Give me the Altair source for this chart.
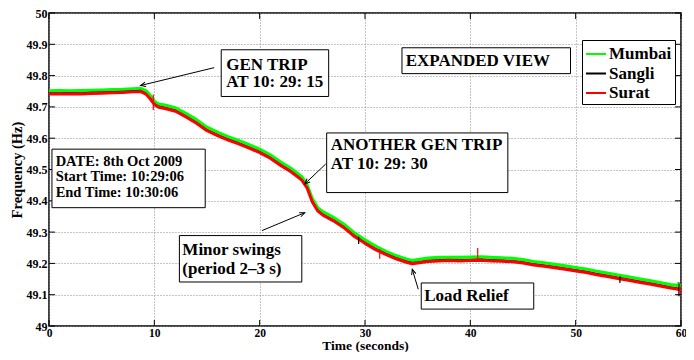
import math
import altair as alt
import pandas as pd

# ---------------- data ----------------
T = [0, 1, 2, 3, 4, 5, 6, 7, 8, 8.7, 9.2, 9.6, 10.0, 10.4,
     11, 12, 13, 14, 15, 16, 17, 18, 19, 20, 21, 22, 23, 24,
     24.5, 25, 25.5, 26,
     27, 28, 29, 30, 31, 32, 33, 34, 34.5,
     35, 36, 37, 38, 39, 40, 41, 42, 43, 44, 45, 46, 47, 48, 49, 50,
     51, 52, 53, 54, 55, 56, 57, 58, 59, 60]

MUMBAI = [49.751, 49.752, 49.751, 49.752, 49.753, 49.754, 49.755, 49.756, 49.758,
          49.759, 49.752, 49.737, 49.718, 49.709,
          49.706, 49.697, 49.679, 49.659, 49.635, 49.619, 49.605, 49.593, 49.579, 49.565,
          49.547, 49.524, 49.503, 49.477,
          49.451, 49.406, 49.378, 49.365,
          49.347, 49.325, 49.297, 49.275, 49.255, 49.238, 49.224, 49.213, 49.209,
          49.212, 49.217, 49.219, 49.219, 49.219, 49.220, 49.221, 49.219, 49.218, 49.216,
          49.212, 49.206, 49.202, 49.197, 49.192, 49.187, 49.182, 49.175, 49.169, 49.163,
          49.157, 49.151, 49.145, 49.139, 49.132, 49.128]

SANGLI = [49.745, 49.745, 49.746, 49.745, 49.747, 49.748, 49.749, 49.750, 49.752,
          49.753, 49.745, 49.730, 49.712, 49.703,
          49.699, 49.690, 49.672, 49.652, 49.628, 49.612, 49.598, 49.586, 49.572, 49.558,
          49.540, 49.517, 49.496, 49.470,
          49.445, 49.400, 49.372, 49.358,
          49.340, 49.318, 49.290, 49.268, 49.248, 49.232, 49.218, 49.207, 49.203,
          49.205, 49.210, 49.212, 49.213, 49.212, 49.213, 49.214, 49.212, 49.211, 49.209,
          49.205, 49.199, 49.195, 49.190, 49.185, 49.180, 49.175, 49.168, 49.162, 49.156,
          49.150, 49.144, 49.138, 49.132, 49.125, 49.120]

SURAT = [49.741, 49.741, 49.742, 49.741, 49.743, 49.744, 49.745, 49.746, 49.748,
         49.749, 49.741, 49.726, 49.708, 49.699,
         49.695, 49.686, 49.668, 49.648, 49.624, 49.608, 49.594, 49.582, 49.568, 49.554,
         49.536, 49.513, 49.492, 49.466,
         49.441, 49.396, 49.368, 49.354,
         49.336, 49.314, 49.286, 49.264, 49.244, 49.228, 49.214, 49.203, 49.199,
         49.201, 49.206, 49.208, 49.209, 49.208, 49.209, 49.210, 49.208, 49.207, 49.205,
         49.201, 49.195, 49.191, 49.186, 49.181, 49.176, 49.171, 49.164, 49.158, 49.152,
         49.146, 49.140, 49.134, 49.128, 49.121, 49.116]

SERIES = ["Mumbai", "Sangli", "Surat"]
COLORS = ["#00ff00", "#000000", "#ff0000"]
WIDTHS = [3.2, 1, 3]

# isolated spikes seen in the traces
SPIKE_SERIES = ["Surat", "Surat", "Surat", "Sangli", "Sangli", "Sangli", "Surat", "Mumbai"]
SPIKE_T = [9.9, 31.4, 40.7, 29.4, 54.2, 59.8, 59.9, 59.7]
SPIKE_LO = [49.690, 49.215, 49.212, 49.262, 49.137, 49.095, 49.100, 49.125]
SPIKE_HI = [49.740, 49.245, 49.249, 49.285, 49.158, 49.140, 49.130, 49.140]

X_TICKS = [0, 10, 20, 30, 40, 50, 60]
Y_TICKS = [49.0, 49.1, 49.2, 49.3, 49.4, 49.5, 49.6, 49.7, 49.8, 49.9, 50.0]

# annotation boxes (data coordinates)
BOX_X1 = [16.35, 0.28, 26.36, 12.38, 33.51, 35.34]
BOX_X2 = [26.55, 14.83, 43.56, 24.00, 49.51, 46.02]
BOX_Y1 = [49.8825, 49.565, 49.6168, 49.2889, 49.8889, 49.1375]
BOX_Y2 = [49.7333, 49.378, 49.4263, 49.1406, 49.8063, 49.0540]

TEXT_LABEL = ["GEN TRIP", "AT 10: 29: 15",
              "DATE: 8th Oct 2009", "Start Time: 10:29:06", "End Time: 10:30:06",
              "ANOTHER GEN TRIP", "AT 10: 29: 30",
              "Minor swings", "(period 2\u20133 s)",
              "EXPANDED VIEW", "Load Relief"]
TEXT_X = [16.82, 16.82, 0.63, 0.63, 0.63, 26.74, 26.74, 12.66, 12.66, 33.86, 35.62]
TEXT_Y = [49.835, 49.779, 49.5238, 49.4746, 49.4238, 49.5778, 49.5175,
          49.2444, 49.1810, 49.8476, 49.0952]
TEXT_SIZE = [17, 17, 14.5, 14.5, 14.5, 17, 17, 17, 17, 17, 17]

ARROW_X1 = [15.685, 26.268, 20.220, 35.055]
ARROW_Y1 = [49.8254, 49.5175, 49.3048, 49.1175]
ARROW_X2 = [8.693, 24.283, 24.283, 34.488]
ARROW_Y2 = [49.7683, 49.4540, 49.3619, 49.1810]

W, H = 632, 313
FONT = "Liberation Serif"

# ---------------- tables ----------------
lines = pd.concat([
    pd.DataFrame({"t": T, "f": vals, "series": name})
    for name, vals in zip(SERIES, [MUMBAI, SANGLI, SURAT])
])
spikes = pd.DataFrame({"series": SPIKE_SERIES, "t": SPIKE_T, "lo": SPIKE_LO, "hi": SPIKE_HI})
boxes = pd.DataFrame({"x1": BOX_X1, "x2": BOX_X2, "y1": BOX_Y1, "y2": BOX_Y2})
texts = pd.DataFrame({"x": TEXT_X, "y": TEXT_Y, "label": TEXT_LABEL, "fs": TEXT_SIZE})
angles = []
for x1, y1, x2, y2 in zip(ARROW_X1, ARROW_Y1, ARROW_X2, ARROW_Y2):
    dx = (x2 - x1) * W / 60.0
    dy = -(y2 - y1) * H / 1.0
    angles.append(math.degrees(math.atan2(dy, dx)) % 360)
arrows = pd.DataFrame({"x1": ARROW_X1, "y1": ARROW_Y1, "x2": ARROW_X2, "y2": ARROW_Y2,
                       "ang": angles})

# ---------------- encodings ----------------
xscale = alt.Scale(domain=[0, 60], nice=False, zero=False)
yscale = alt.Scale(domain=[49, 50], nice=False, zero=False)

xaxis = alt.Axis(values=X_TICKS, title="Time (seconds)", grid=True, gridDash=[1, 2],
                 gridColor="#8a8a8a", gridWidth=1, ticks=False, tickSize=0, domain=False,
                 labelFont=FONT, labelFontWeight="bold", labelFontSize=11.5, labelColor="black",
                 labelPadding=1, titleFont=FONT, titleFontWeight="bold", titleFontSize=13.5,
                 titleColor="black", titlePadding=0, labelFlush=False)
yaxis = alt.Axis(values=Y_TICKS, title="Frequency (Hz)", grid=True, gridDash=[1, 2],
                 gridColor="#8a8a8a", gridWidth=1, ticks=False, tickSize=0, domain=False,
                 format=".1~f", labelFont=FONT, labelFontWeight="bold", labelFontSize=12,
                 labelColor="black", labelPadding=2, titleFont=FONT, titleFontWeight="bold",
                 titleFontSize=14.5, titleColor="black", titlePadding=2, labelFlush=False)


def X(field):
    return alt.X(field, type="quantitative", scale=xscale, axis=xaxis)


def Y(field):
    return alt.Y(field, type="quantitative", scale=yscale, axis=yaxis)


color = alt.Color("series:N", scale=alt.Scale(domain=SERIES, range=COLORS),
                  legend=alt.Legend(orient="none", legendX=533, legendY=27, title=None,
                                    symbolType="stroke", symbolSize=400, symbolStrokeWidth=2,
                                    labelFont=FONT, labelFontWeight="bold", labelFontSize=17,
                                    labelColor="black", fillColor="white", strokeColor="black",
                                    padding=3, rowPadding=0.5, labelOffset=2))

layers = []
for name, w in zip(SERIES, WIDTHS):
    layers.append(
        alt.Chart(lines).transform_filter(alt.datum.series == name)
        .mark_line(strokeWidth=w, strokeJoin="round")
        .encode(x=X("t"), y=Y("f"), color=color)
    )

spike_layer = alt.Chart(spikes).mark_rule(strokeWidth=1.2).encode(
    x=X("t"), y=Y("lo"), y2=alt.Y2("hi"), color=color)

tick_left = alt.Chart(pd.DataFrame({"v": Y_TICKS})).mark_rule(color="black").encode(
    y=Y("v"), x=alt.value(0), x2=alt.value(6))
tick_right = alt.Chart(pd.DataFrame({"v": Y_TICKS})).mark_rule(color="black").encode(
    y=Y("v"), x=alt.value(W - 6), x2=alt.value(W))
tick_bottom = alt.Chart(pd.DataFrame({"v": X_TICKS})).mark_rule(color="black").encode(
    x=X("v"), y=alt.value(H - 6), y2=alt.value(H))
tick_top = alt.Chart(pd.DataFrame({"v": X_TICKS})).mark_rule(color="black").encode(
    x=X("v"), y=alt.value(0), y2=alt.value(6))

box_layer = alt.Chart(boxes).mark_rect(fill="white", stroke="black", strokeWidth=1).encode(
    x=X("x1"), x2=alt.X2("x2"), y=Y("y1"), y2=alt.Y2("y2"))

text_layer = alt.Chart(texts).mark_text(align="left", baseline="middle", font=FONT,
                                        fontWeight="bold", color="black").encode(
    x=X("x"), y=Y("y"), text="label:N", size=alt.Size("fs:Q", scale=None))

arrow_line = alt.Chart(arrows).mark_rule(color="black", strokeWidth=1).encode(
    x=X("x1"), y=Y("y1"), x2=alt.X2("x2"), y2=alt.Y2("y2"))
arrow_head = alt.Chart(arrows).mark_point(
    shape="M -1.3 -0.55 L 0 0 L -1.3 0.55", filled=False, color="black", strokeWidth=1,
    size=64, opacity=1).encode(
    x=X("x2"), y=Y("y2"), angle=alt.Angle("ang:Q", scale=None))

chart = alt.layer(
    *layers, spike_layer, tick_left, tick_right, tick_bottom, tick_top,
    arrow_line, arrow_head, box_layer, text_layer
).properties(
    width=W, height=H,
    padding={"left": 41, "top": 5, "right": 5, "bottom": 26},
    autosize=alt.AutoSizeParams(type="none"),
).configure_view(stroke="black", strokeWidth=1.5)

chart.save("out.html", embed_options={"renderer": "svg", "actions": False})
